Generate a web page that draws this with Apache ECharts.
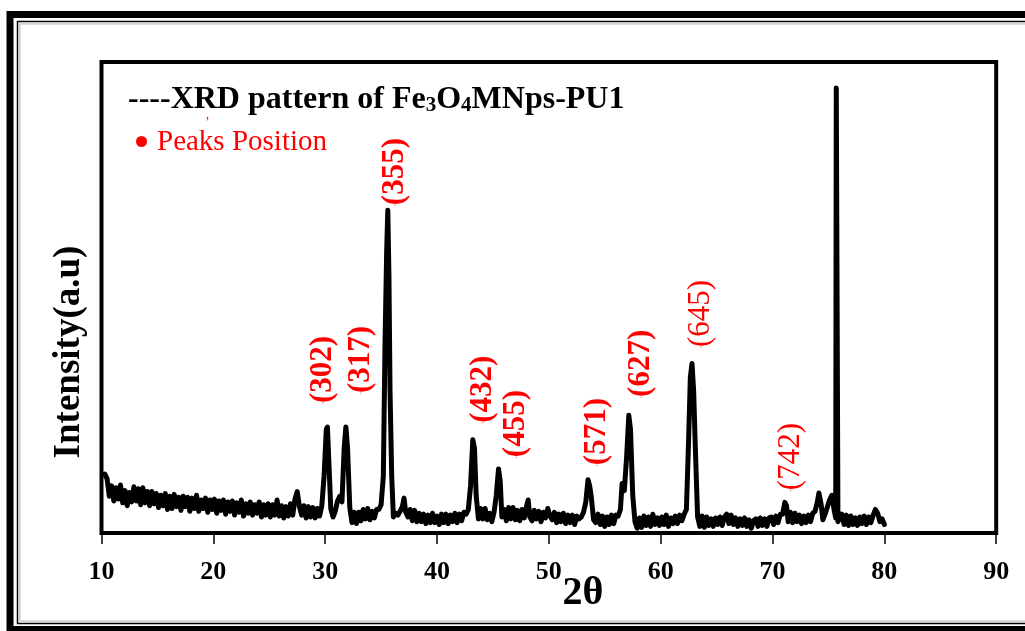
<!DOCTYPE html>
<html>
<head>
<meta charset="utf-8">
<title>XRD pattern of Fe3O4MNps-PU1</title>
<script src="https://cdn.jsdelivr.net/npm/echarts@6/dist/echarts.min.js"></script>
<style>
  html, body { margin: 0; padding: 0; background: #ffffff; }
  #chart { width: 1025px; height: 631px; }
</style>
</head>
<body>
<div id="chart"></div>
<script>
// 2θ positions (degrees) of the measured pattern
const thetaValues = [
  10.3, 10.5, 10.7, 10.9, 11.1, 11.3, 11.5, 11.7, 11.9, 12.1, 12.3, 12.5, 12.7, 12.9,
  13.1, 13.3, 13.5, 13.7, 13.9, 14.1, 14.3, 14.5, 14.7, 14.9, 15.1, 15.3, 15.5, 15.7,
  15.9, 16.1, 16.3, 16.5, 16.7, 16.9, 17.1, 17.3, 17.5, 17.7, 17.9, 18.1, 18.3, 18.5,
  18.7, 18.9, 19.1, 19.3, 19.5, 19.7, 19.9, 20.1, 20.3, 20.5, 20.7, 20.9, 21.1, 21.3,
  21.5, 21.7, 21.9, 22.1, 22.3, 22.5, 22.7, 22.9, 23.1, 23.3, 23.5, 23.7, 23.9, 24.1,
  24.3, 24.5, 24.7, 24.9, 25.1, 25.3, 25.5, 25.7, 25.9, 26.1, 26.3, 26.5, 26.7, 26.9,
  27.1, 27.3, 27.5, 27.7, 27.9, 28.1, 28.3, 28.5, 28.7, 28.9, 29.1, 29.3, 29.5, 29.7,
  29.9, 30.1, 30.2, 30.35, 30.5, 30.7, 30.9, 31.1, 31.3, 31.5, 31.7, 31.85, 32.0, 32.2,
  32.4, 32.6, 32.8, 33.0, 33.2, 33.4, 33.6, 33.8, 34.0, 34.2, 34.4, 34.6, 34.8, 35.0,
  35.2, 35.35, 35.5, 35.6, 35.7, 35.8, 35.95, 36.1, 36.3, 36.5, 36.7, 36.9, 37.05, 37.2,
  37.4, 37.6, 37.8, 38.0, 38.2, 38.4, 38.6, 38.8, 39.0, 39.2, 39.4, 39.6, 39.8, 40.0,
  40.2, 40.4, 40.6, 40.8, 41.0, 41.2, 41.4, 41.6, 41.8, 42.0, 42.2, 42.4, 42.6, 42.8,
  43.0, 43.2, 43.35, 43.5, 43.7, 43.9, 44.1, 44.3, 44.5, 44.7, 44.9, 45.1, 45.3, 45.5,
  45.65, 45.8, 46.0, 46.2, 46.4, 46.6, 46.8, 47.0, 47.2, 47.4, 47.6, 47.8, 48.0, 48.15,
  48.3, 48.5, 48.7, 48.9, 49.1, 49.3, 49.5, 49.7, 49.9, 50.1, 50.3, 50.5, 50.7, 50.9,
  51.1, 51.3, 51.5, 51.7, 51.9, 52.1, 52.3, 52.5, 52.7, 52.9, 53.1, 53.3, 53.5, 53.65,
  53.8, 54.0, 54.2, 54.4, 54.6, 54.8, 55.0, 55.2, 55.4, 55.6, 55.8, 56.0, 56.2, 56.4,
  56.55, 56.75, 56.95, 57.15, 57.3, 57.5, 57.7, 57.9, 58.1, 58.3, 58.5, 58.7, 58.9, 59.1,
  59.3, 59.5, 59.7, 59.9, 60.1, 60.3, 60.5, 60.7, 60.9, 61.1, 61.3, 61.5, 61.7, 61.9,
  62.1, 62.3, 62.5, 62.65, 62.8, 62.95, 63.1, 63.3, 63.5, 63.7, 63.9, 64.1, 64.3, 64.5,
  64.7, 64.9, 65.1, 65.3, 65.5, 65.7, 65.9, 66.1, 66.3, 66.5, 66.7, 66.9, 67.1, 67.3,
  67.5, 67.7, 67.9, 68.1, 68.3, 68.5, 68.7, 68.9, 69.1, 69.3, 69.5, 69.7, 69.9, 70.1,
  70.3, 70.5, 70.7, 70.9, 71.1, 71.25, 71.4, 71.6, 71.8, 72.0, 72.2, 72.4, 72.6, 72.8,
  73.0, 73.2, 73.4, 73.6, 73.8, 74.0, 74.15, 74.35, 74.5, 74.7, 74.9, 75.1, 75.3, 75.5,
  75.65, 75.7, 75.78, 75.85, 76.0, 76.2, 76.4, 76.6, 76.8, 77.0, 77.2, 77.4, 77.6, 77.8,
  78.0, 78.2, 78.4, 78.6, 78.8, 79.0, 79.2, 79.4, 79.6, 79.8, 80.0
];

// Measured intensity (a.u.) at each 2θ position
const intensityValues = [
  12.5, 11.5, 7.8, 10.0, 6.8, 9.6, 7.2, 10.2, 6.4, 9.0, 5.8, 8.6, 6.6, 9.8,
  6.8, 9.4, 6.0, 9.6, 6.4, 8.8, 5.8, 8.8, 6.2, 8.4, 5.4, 8.0, 5.8, 8.4,
  5.0, 7.8, 5.2, 8.2, 5.6, 7.6, 4.8, 7.8, 5.6, 7.6, 4.6, 7.4, 5.2, 8.0,
  4.6, 7.0, 5.2, 7.4, 4.4, 7.0, 5.0, 7.2, 4.2, 6.8, 4.8, 7.0, 4.0, 6.6,
  4.6, 6.8, 3.8, 6.4, 4.4, 7.0, 3.6, 6.2, 4.2, 6.6, 3.8, 6.0, 4.2, 6.6,
  3.4, 6.0, 3.8, 6.2, 3.4, 6.0, 3.8, 7.0, 3.6, 5.8, 3.2, 5.6, 3.6, 6.2,
  3.8, 7.2, 8.8, 5.6, 3.8, 5.8, 3.2, 5.6, 3.4, 5.4, 3.2, 5.2, 3.6, 5.8,
  12.0, 22.0, 22.5, 14.0, 5.2, 3.4, 4.6, 6.8, 7.8, 6.6, 18.0, 22.5, 18.0, 5.4,
  2.2, 4.4, 2.0, 4.4, 2.6, 5.0, 3.0, 5.2, 2.8, 4.6, 3.2, 5.0, 5.0, 6.0,
  12.0, 40.0, 60.0, 68.5, 55.0, 30.0, 12.0, 3.4, 4.2, 3.8, 4.6, 5.6, 7.4, 4.4,
  3.4, 5.0, 2.6, 4.8, 2.4, 4.2, 2.4, 4.0, 2.0, 3.8, 2.2, 4.2, 2.2, 3.6,
  1.8, 4.0, 2.2, 4.0, 2.0, 3.8, 2.4, 4.2, 2.2, 4.0, 2.6, 4.4, 4.0, 5.0,
  10.0, 19.8, 18.0, 8.0, 3.0, 5.2, 3.0, 5.2, 2.8, 4.2, 2.4, 4.4, 8.0, 13.6,
  11.0, 3.4, 5.0, 2.6, 5.4, 3.0, 5.4, 2.8, 4.8, 2.6, 5.0, 3.2, 5.6, 7.0,
  3.4, 2.6, 4.8, 3.0, 4.6, 2.4, 4.4, 3.2, 5.2, 3.6, 2.8, 4.4, 2.2, 4.0,
  2.4, 4.2, 2.0, 3.8, 2.2, 3.8, 1.8, 3.6, 3.0, 3.4, 4.4, 6.5, 11.3, 10.0,
  7.5, 2.8, 2.2, 4.0, 1.8, 3.6, 1.4, 3.4, 1.8, 3.8, 2.0, 3.8, 3.6, 5.0,
  10.5, 9.0, 16.0, 25.0, 22.0, 8.0, 2.4, 1.0, 3.2, 1.2, 3.6, 1.6, 3.4, 1.4,
  4.0, 1.8, 3.2, 1.6, 3.4, 1.8, 3.8, 1.4, 3.2, 2.0, 3.6, 2.0, 3.8, 2.6,
  4.0, 5.0, 20.0, 33.0, 36.0, 30.0, 18.0, 3.4, 1.4, 3.6, 1.2, 3.4, 1.6, 3.0,
  1.4, 3.2, 1.8, 3.4, 1.6, 3.4, 4.0, 2.0, 3.8, 1.8, 3.2, 1.4, 3.0, 1.6,
  3.2, 1.4, 2.8, 1.0, 2.6, 3.0, 1.4, 3.2, 1.6, 3.0, 1.4, 3.2, 3.4, 1.8,
  3.6, 2.2, 4.0, 4.0, 6.5, 5.8, 2.4, 4.4, 2.2, 4.2, 2.4, 3.8, 2.0, 3.6,
  2.2, 3.8, 2.4, 4.2, 4.6, 6.5, 8.5, 6.0, 2.8, 4.0, 5.5, 7.0, 8.0, 5.0,
  3.2, 94.5, 94.5, 2.4, 2.0, 4.0, 1.8, 3.8, 1.6, 3.6, 1.8, 3.2, 1.6, 3.4,
  2.0, 3.6, 1.8, 3.4, 2.2, 3.8, 5.0, 4.2, 2.4, 3.0, 1.8
];

// Miller-index annotations and where each one is anchored (2θ, intensity of its lower end)
const peakNames      = ['(302)', '(317)', '(355)', '(432)', '(455)', '(571)', '(627)', '(645)', '(742)'];
const peakLabelTheta = [29.8, 33.2, 36.25, 44.1, 47.1, 54.3, 58.25, 63.6, 71.6];
const peakLabelLevel = [27.6, 29.7, 69.6, 23.4, 16.1, 14.4, 28.9, 39.5, 9.1];
const peakLabelBold  = [true, true, true, true, true, true, true, false, false];

// Axis extents
const thetaMin = 10, thetaMax = 90, thetaStep = 10;
const intensityMin = 0, intensityMax = 100;

const SERIF = '"Liberation Serif", "Times New Roman", Times, serif';

const chart = echarts.init(document.getElementById('chart'), null, { renderer: 'canvas' });

const patternData = thetaValues.map((t, i) => [t, intensityValues[i]]);
const labelData = peakNames.map((name, i) => ({
  name: name,
  value: [peakLabelTheta[i], peakLabelLevel[i]],
  label: { fontWeight: peakLabelBold[i] ? 'bold' : 'normal' }
}));

chart.setOption({
  animation: false,
  backgroundColor: '#ffffff',
  grid: {
    left: 101.5, right: 28.8, top: 62, bottom: 98,
    show: true,
    borderColor: '#000000',
    borderWidth: 4,
    backgroundColor: 'transparent'
  },
  xAxis: {
    type: 'value',
    min: thetaMin, max: thetaMax, interval: thetaStep,
    axisLine: { show: false },
    axisTick: { show: true, inside: false, length: 11, lineStyle: { color: '#000', width: 1.5 } },
    splitLine: { show: false },
    axisLabel: {
      show: true,
      margin: 26,
      color: '#000',
      fontFamily: SERIF,
      fontWeight: 'bold',
      fontSize: 26
    }
  },
  yAxis: {
    type: 'value',
    min: intensityMin, max: intensityMax,
    axisLine: { show: false },
    axisTick: { show: false },
    axisLabel: { show: false },
    splitLine: { show: false }
  },
  series: [
    {
      name: 'XRD pattern',
      type: 'line',
      data: patternData,
      symbol: 'none',
      smooth: false,
      lineStyle: { color: '#000000', width: 5, join: 'round', cap: 'round' },
      z: 3
    },
    {
      name: 'Peaks Position',
      type: 'scatter',
      data: labelData,
      symbolSize: 1,
      itemStyle: { color: '#ff0000', opacity: 1 },
      silent: true,
      z: 4,
      label: {
        show: true,
        formatter: '{b}',
        position: 'inside',
        rotate: 90,
        align: 'left',
        verticalAlign: 'middle',
        color: '#ff0000',
        opacity: 1,
        textBorderWidth: 0,
        textBorderColor: 'transparent',
        fontFamily: SERIF,
        fontSize: 31
      },
      emphasis: { disabled: true }
    }
  ],
  graphic: [
    // outer frame of the figure
    {
      type: 'rect', silent: true, z: 10,
      shape: { x: 10, y: 14.5, width: 1040, height: 615 },
      style: { fill: 'none', stroke: '#000', lineWidth: 7 }
    },
    {
      type: 'rect', silent: true, z: 10,
      shape: { x: 17.5, y: 21.5, width: 1030, height: 602 },
      style: { fill: 'none', stroke: '#000', lineWidth: 1.5 }
    },
    {
      type: 'rect', silent: true, z: 10,
      shape: { x: 19.8, y: 23.8, width: 1030, height: 597.5 },
      style: { fill: 'none', stroke: '#d4d4d4', lineWidth: 2 }
    },
    // series key
    {
      type: 'text', silent: true, z: 10,
      left: 128, top: 84,
      style: {
        text: '----XRD pattern of Fe{s|3}O{s|4}MNps-PU1',
        fill: '#000',
        fontFamily: SERIF,
        fontWeight: 'bold',
        fontSize: 32,
        rich: {
          s: { fontFamily: SERIF, fontWeight: 'bold', fontSize: 21, fill: '#000', verticalAlign: 'bottom' }
        }
      }
    },
    {
      type: 'circle', silent: true, z: 10,
      shape: { cx: 141.5, cy: 141.5, r: 5.5 },
      style: { fill: '#ff0000' }
    },
    {
      type: 'text', silent: true, z: 10,
      left: 157, top: 128,
      style: { text: 'Peaks Position', fill: '#ff0000', fontFamily: SERIF, fontSize: 29 }
    },
    {
      type: 'text', silent: true, z: 10,
      left: 205, top: 116,
      style: { text: '\u2019', fill: '#ff0000', fontFamily: SERIF, fontSize: 14 }
    },
    // axis titles
    {
      type: 'text', silent: true, z: 10,
      x: 69, y: 352, rotation: Math.PI / 2,
      style: {
        text: 'Intensity(a.u)', fill: '#000', fontFamily: SERIF, fontWeight: 'bold', fontSize: 37,
        align: 'center', verticalAlign: 'middle'
      }
    },
    {
      type: 'text', silent: true, z: 10,
      x: 583, y: 594,
      style: {
        text: '2\u03b8', fill: '#000', fontFamily: SERIF, fontWeight: 'bold', fontSize: 40,
        align: 'center', verticalAlign: 'middle'
      }
    }
  ]
});
</script>
</body>
</html>
